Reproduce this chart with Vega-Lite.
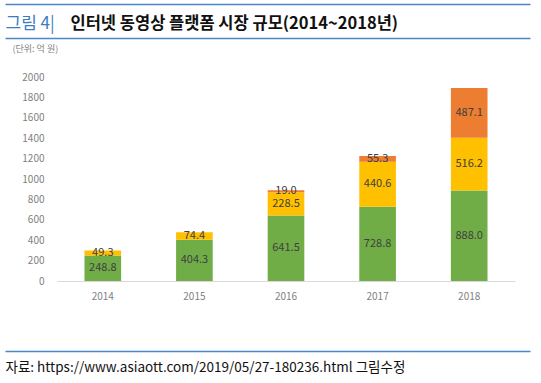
{
  "$schema": "https://vega.github.io/schema/vega-lite/v6.json",
  "width": 458,
  "height": 204,
  "autosize": {"type": "none"},
  "padding": {"left": 57, "top": 77, "right": 26, "bottom": 102},
  "background": "white",
  "config": {
    "font": "Noto Sans CJK KR",
    "view": {"stroke": null},
    "axis": {"grid": false}
  },
  "data": {
    "values": [
      {"year": "2014", "type": "종합 동영상", "ord": 1, "value": 248.8},
      {"year": "2014", "type": "라이브", "ord": 2, "value": 49.3},
      {"year": "2015", "type": "종합 동영상", "ord": 1, "value": 404.3},
      {"year": "2015", "type": "라이브", "ord": 2, "value": 74.4},
      {"year": "2016", "type": "종합 동영상", "ord": 1, "value": 641.5},
      {"year": "2016", "type": "라이브", "ord": 2, "value": 228.5},
      {"year": "2016", "type": "숏 비디오", "ord": 3, "value": 19.0},
      {"year": "2017", "type": "종합 동영상", "ord": 1, "value": 728.8},
      {"year": "2017", "type": "라이브", "ord": 2, "value": 440.6},
      {"year": "2017", "type": "숏 비디오", "ord": 3, "value": 55.3},
      {"year": "2018", "type": "종합 동영상", "ord": 1, "value": 888.0},
      {"year": "2018", "type": "라이브", "ord": 2, "value": 516.2},
      {"year": "2018", "type": "숏 비디오", "ord": 3, "value": 487.1}
    ]
  },
  "resolve": {"scale": {"x": "independent"}, "axis": {"x": "independent"}},
  "layer": [
    {
      "mark": {"type": "point", "opacity": 0},
      "encoding": {
        "x": {
          "field": "year", "type": "nominal", "scale": {"range": [-52, 473]},
          "axis": {
            "orient": "top", "offset": 73, "domainColor": "#4A86C8", "domainWidth": 1.5,
            "labels": false, "ticks": false,
            "title": "인터넷 동영상 플랫폼 시장 규모(2014~2018년)",
            "titleX": 13, "titleY": 24, "titleAlign": "left", "titleAngle": 0,
            "titleBaseline": "alphabetic", "titleFontSize": 16.5, "titleFontWeight": "bold",
            "titleColor": "#111111"
          }
        }
      }
    },
    {
      "mark": {"type": "point", "opacity": 0},
      "encoding": {
        "x": {
          "field": "year", "type": "nominal", "scale": {"range": [-52, 473]},
          "axis": {
            "orient": "top", "offset": 39, "domainColor": "#4A86C8", "domainWidth": 1.5,
            "labels": false, "ticks": false,
            "title": "그림 4|",
            "titleX": -52, "titleY": -10, "titleAlign": "left", "titleAngle": 0,
            "titleBaseline": "alphabetic", "titleFontSize": 17, "titleFontWeight": "normal",
            "titleColor": "#3B7DC4"
          }
        }
      }
    },
    {
      "mark": {"type": "point", "opacity": 0},
      "encoding": {
        "x": {
          "field": "year", "type": "nominal", "scale": {"range": [-52, 473]},
          "axis": {
            "orient": "bottom", "offset": 70, "domainColor": "#4A86C8", "domainWidth": 1.5,
            "labels": false, "ticks": false,
            "title": "자료: https://www.asiaott.com/2019/05/27-180236.html 그림수정",
            "titleX": -52, "titleY": 16, "titleAlign": "left", "titleAngle": 0,
            "titleBaseline": "middle", "titleFontSize": 13.5, "titleFontWeight": "normal",
            "titleColor": "#111111"
          }
        }
      }
    },
    {
      "mark": {"type": "bar"},
      "encoding": {
        "x": {
          "field": "year", "type": "nominal",
          "scale": {"paddingInner": 0.6, "paddingOuter": 0.3},
          "axis": {
            "orient": "bottom", "title": null, "labelAngle": 0, "ticks": false,
            "domainColor": "#d9d9d9", "labelColor": "#7f7f7f",
            "labelFontSize": 10, "labelPadding": 10
          }
        },
        "y": {
          "field": "value", "type": "quantitative", "stack": "zero",
          "scale": {"domain": [0, 2000]},
          "axis": {
            "values": [0, 200, 400, 600, 800, 1000, 1200, 1400, 1600, 1800, 2000],
            "format": "d",
            "domainOpacity": 0, "ticks": false, "grid": false,
            "labelColor": "#7f7f7f", "labelFontSize": 10, "labelPadding": 13,
            "title": "(단위: 억 원)", "titleAngle": 0, "titleX": -45, "titleY": -29,
            "titleAlign": "left", "titleBaseline": "middle", "titleFontSize": 9,
            "titleFontWeight": "normal", "titleColor": "#7f7f7f"
          }
        },
        "color": {
          "field": "type", "type": "nominal",
          "scale": {"domain": ["종합 동영상", "라이브", "숏 비디오"], "range": ["#70AD47", "#FFC000", "#ED7D31"]},
          "legend": null
        },
        "order": {"field": "ord"}
      }
    },
    {
      "transform": [
        {"stack": "value", "groupby": ["year"], "sort": [{"field": "ord"}], "as": ["v0", "v1"]},
        {"calculate": "(datum.v0 + datum.v1) / 2", "as": "mid"}
      ],
      "mark": {"type": "text", "fontSize": 11, "color": "#404040"},
      "encoding": {
        "x": {"field": "year", "type": "nominal", "scale": {"paddingInner": 0.6, "paddingOuter": 0.3}, "axis": null},
        "y": {
          "field": "mid", "type": "quantitative", "scale": {"domain": [0, 2000]},
          "axis": {
            "values": [0, 200, 400, 600, 800, 1000, 1200, 1400, 1600, 1800, 2000],
            "format": "d",
            "domainOpacity": 0, "ticks": false, "grid": false,
            "labelColor": "#7f7f7f", "labelFontSize": 10, "labelPadding": 13,
            "title": "(단위: 억 원)", "titleAngle": 0, "titleX": -45, "titleY": -29,
            "titleAlign": "left", "titleBaseline": "middle", "titleFontSize": 9,
            "titleFontWeight": "normal", "titleColor": "#7f7f7f"
          }
        },
        "text": {"field": "value", "type": "quantitative", "format": ".1f"}
      }
    }
  ]
}
